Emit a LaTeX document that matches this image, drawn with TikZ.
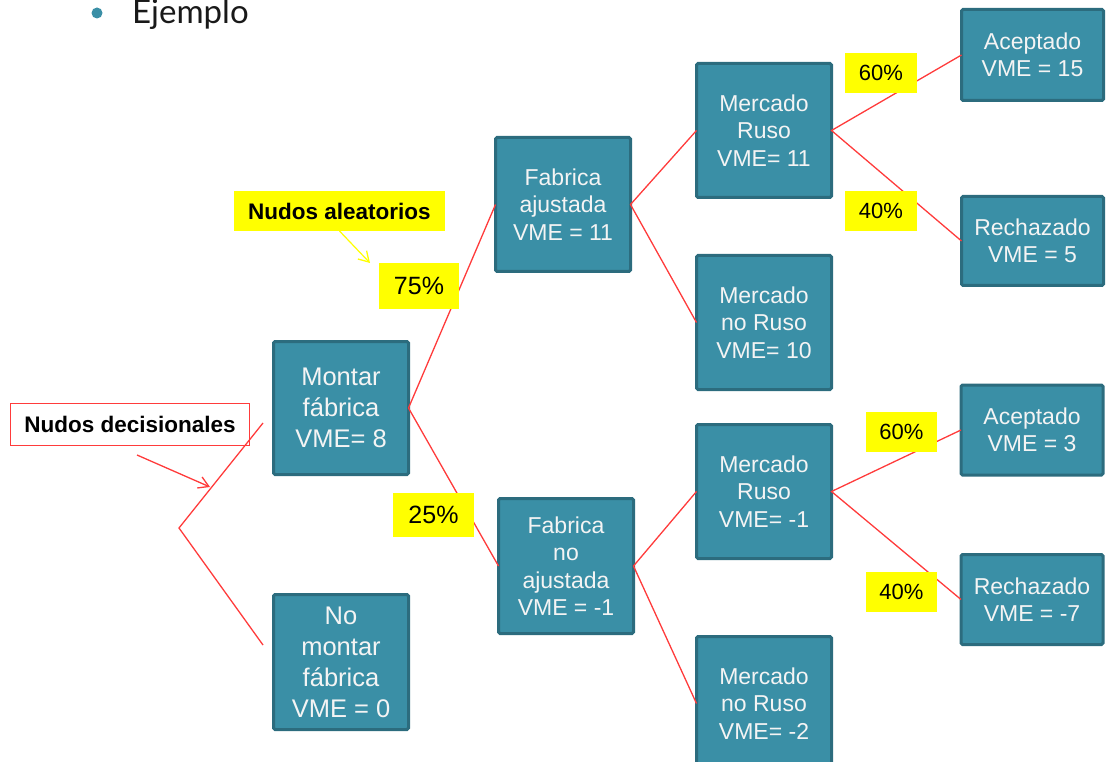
\documentclass[tikz,border=0pt]{standalone}
\usepackage{fontspec}
\setmainfont{Liberation Sans}
\newfontfamily\titlefont{Lato}
\usetikzlibrary{arrows.meta}
\definecolor{boxfill}{HTML}{3A8FA6}
\definecolor{boxline}{HTML}{2C6C7E}
\definecolor{boxtext}{HTML}{F4F4F4}
\definecolor{tag}{HTML}{FFFF00}
\definecolor{branch}{HTML}{FF3B3B}
\tikzset{
  stage/.style={rectangle, rounded corners=1.5pt, fill=boxfill, draw=boxline,
    line width=3pt, text=boxtext, align=center, inner sep=0pt, outer sep=0pt,
    minimum width=135pt, font=\fontsize{23}{27.5}\selectfont},
  bigstage/.style={stage, font=\fontsize{25.5}{31}\selectfont},
  endstage/.style={stage, minimum width=142pt},
  prob/.style={rectangle, fill=tag, inner sep=0pt, outer sep=0pt,
    minimum width=72pt, minimum height=40pt, font=\fontsize{22}{26}\selectfont},
  note/.style={rectangle, inner sep=0pt, outer sep=0pt,
    font=\bfseries\fontsize{22.5}{26}\selectfont},
  branchline/.style={draw=branch, line width=1.3pt},
  barb/.style={-{Straight Barb[length=10pt, width=12pt, line width=1.3pt]}},
}
\begin{document}
\begin{tikzpicture}[x=1pt, y=-1pt]
\useasboundingbox (0,0) rectangle (1112,762);
\clip (0,0) rectangle (1112,762);

% heading
\fill[boxfill] (97,13) circle (5.5);
\node[anchor=base west, inner sep=0pt, text=black!90, font=\titlefont\fontsize{33}{36}\selectfont] (title) at (132,23.5) {Ejemplo};

% decision stages
\node[bigstage, minimum height=133pt] (montar) at (341,408) {Montar\\fábrica\\VME= 8};
\node[bigstage, minimum height=135pt] (nomontar) at (341,662) {No\\montar\\fábrica\\VME = 0};

\node[stage, minimum height=134pt] (fajust) at (563,204.5) {Fabrica\\ajustada\\VME = 11};
\node[stage, minimum height=135pt] (fnoajust) at (566,566) {Fabrica\\no\\ajustada\\VME = -1};

\node[stage, minimum height=134pt] (mruso1) at (764,130.5) {Mercado\\Ruso\\VME= 11};
\node[stage, minimum height=134pt] (mnoruso1) at (764,322.5) {Mercado\\no Ruso\\VME= 10};
\node[stage, minimum height=134pt] (mruso2) at (764,491.5) {Mercado\\Ruso\\VME= -1};
\node[stage, minimum height=134pt] (mnoruso2) at (764,703.5) {Mercado\\no Ruso\\VME= -2};

\node[endstage, minimum height=91pt] (acep1) at (1032.5,55) {Aceptado\\VME = 15};
\node[endstage, minimum height=89pt] (rech1) at (1032.5,241) {Rechazado\\VME = 5};
\node[endstage, minimum height=90pt] (acep2) at (1032,430) {Aceptado\\VME = 3};
\node[endstage, minimum height=90pt] (rech2) at (1032,599.5) {Rechazado\\VME = -7};

% chance branches
\draw[branchline] (fajust.west) -- (montar.east) -- (fnoajust.west);
\draw[branchline] (mruso1.west) -- (fajust.east) -- (mnoruso1.west);
\draw[branchline] (mruso2.west) -- (fnoajust.east) -- (mnoruso2.west);
\draw[branchline] (acep1.west) -- (mruso1.east) -- (rech1.west);
\draw[branchline] (acep2.west) -- (mruso2.east) -- (rech2.west);

% probabilities
\node[prob, minimum width=80pt, minimum height=46pt, font=\fontsize{25}{29}\selectfont] (p75) at (419,286) {75\%};
\node[prob, minimum width=81pt, minimum height=44pt, font=\fontsize{25}{29}\selectfont] (p25) at (433.5,515) {25\%};
\node[prob] (p60a) at (881,73) {60\%};
\node[prob] (p40a) at (881,211) {40\%};
\node[prob, minimum width=71pt] (p60b) at (901.5,432) {60\%};
\node[prob, minimum width=71pt] (p40b) at (901.5,592) {40\%};

% annotations
\node[note, fill=tag, minimum width=211pt, minimum height=40pt] (aleat) at (339.5,211) {Nudos aleatorios};
\node[note, fill=white, draw=branch, line width=1.3pt, minimum width=239pt, minimum height=42pt] (decis) at (130,424.5) {Nudos decisionales};

\coordinate (aleattip) at (370,263);
\draw[draw=tag, line width=1.2pt, barb] (aleat.south) -- (aleattip);

% decision node
\coordinate (dtop) at (263,423);
\coordinate (dvert) at (179,528);
\coordinate (dbot) at (263,645);
\draw[branchline] (dtop) -- (dvert) -- (dbot);

\coordinate (dtail) at (137,455);
\coordinate (dtip) at (210,487);
\draw[branchline, barb] (dtail) -- (dtip);
\end{tikzpicture}
\end{document}
